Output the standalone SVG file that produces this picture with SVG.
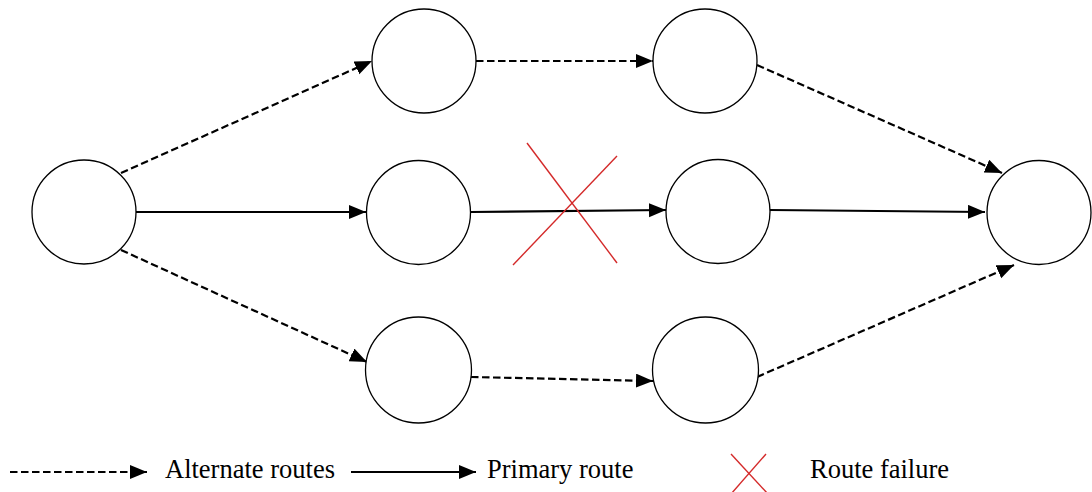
<svg xmlns="http://www.w3.org/2000/svg" width="1092" height="492" viewBox="0 0 1092 492">
<style>
.node{fill:#fff;stroke:#000;stroke-width:1.3}
.alt{fill:none;stroke:#000;stroke-width:2.2;stroke-dasharray:7.5 3.5}
.pri{fill:none;stroke:#000;stroke-width:2.2}
.fail{fill:none;stroke:#d42a2a;stroke-width:1.4}
.lbl{font-family:"Liberation Serif","Times New Roman",serif;font-size:26.5px;fill:#000}
</style>
<defs>
<marker id="ah" markerUnits="userSpaceOnUse" markerWidth="18" markerHeight="16" refX="17" refY="7" orient="auto">
<path d="M0,0 L17,7 L0,14 Z" fill="#000"/>
</marker>
</defs>
<rect width="1092" height="492" fill="#fff"/>
<g id="connectors">
<line class="alt" x1="121" y1="173" x2="372" y2="61" marker-end="url(#ah)"/>
<line class="pri" x1="136" y1="212" x2="366" y2="212" marker-end="url(#ah)"/>
<line class="alt" x1="121" y1="250" x2="367" y2="362" marker-end="url(#ah)"/>
<line class="alt" x1="476" y1="61" x2="653" y2="61" marker-end="url(#ah)"/>
<line class="pri" x1="471" y1="212" x2="666" y2="210" marker-end="url(#ah)"/>
<line class="alt" x1="471" y1="377" x2="653" y2="381" marker-end="url(#ah)"/>
<line class="alt" x1="757" y1="65" x2="1002" y2="173" marker-end="url(#ah)"/>
<line class="pri" x1="770" y1="210" x2="985" y2="212" marker-end="url(#ah)"/>
<line class="alt" x1="757" y1="377" x2="1014" y2="265" marker-end="url(#ah)"/>
</g>
<g id="n1"><circle class="node" cx="84" cy="212" r="52"/></g>
<g id="n2"><circle class="node" cx="424" cy="61" r="52"/></g>
<g id="n3"><circle class="node" cx="705" cy="61" r="52"/></g>
<g id="n4"><circle class="node" cx="418.5" cy="212.5" r="52"/></g>
<g id="n5"><circle class="node" cx="718" cy="211.5" r="52"/></g>
<g id="n6"><circle class="node" cx="418.5" cy="370" r="53"/></g>
<g id="n7"><circle class="node" cx="705.5" cy="370" r="53"/></g>
<g id="n8"><circle class="node" cx="1039" cy="212.5" r="52"/></g>
<g id="failure">
<line class="fail" x1="527" y1="143" x2="617" y2="263"/>
<line class="fail" x1="513" y1="265" x2="617" y2="156"/>
</g>
<g id="legend">
<line class="alt" x1="10" y1="472" x2="147" y2="472" marker-end="url(#ah)"/>
<text class="lbl" x="165" y="478">Alternate routes</text>
<line class="pri" x1="351" y1="472" x2="476" y2="472" marker-end="url(#ah)"/>
<text class="lbl" x="487" y="478">Primary route</text>
<line class="fail" x1="731" y1="454" x2="768" y2="494"/>
<line class="fail" x1="731" y1="494" x2="766" y2="454"/>
<text class="lbl" x="810" y="478">Route failure</text>
</g>
</svg>
